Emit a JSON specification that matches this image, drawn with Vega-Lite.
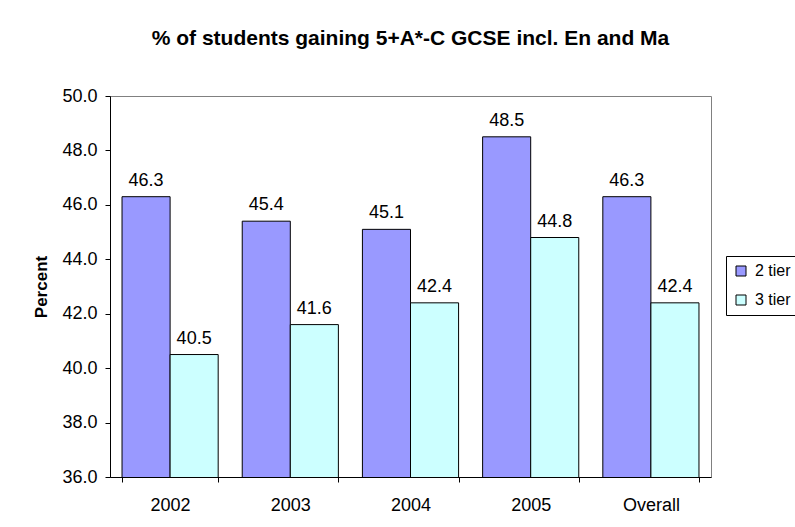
{
  "$schema": "https://vega.github.io/schema/vega-lite/v6.json",
  "width": 601,
  "height": 381,
  "autosize": "none",
  "padding": {"left": 110, "top": 96, "right": 84, "bottom": 50},
  "background": "white",
  "title": {
    "text": "% of students gaining 5+A*-C GCSE incl. En and Ma",
    "font": "Liberation Sans",
    "fontSize": 21,
    "fontWeight": "bold",
    "color": "black",
    "anchor": "middle",
    "offset": 38
  },
  "config": {
    "font": "Liberation Sans",
    "view": {"stroke": "#808080", "strokeWidth": 1}
  },
  "data": {
    "values": [
      {"cat": "2002", "series": "2 tier", "pct": 46.3},
      {"cat": "2002", "series": "3 tier", "pct": 40.5},
      {"cat": "2003", "series": "2 tier", "pct": 45.4},
      {"cat": "2003", "series": "3 tier", "pct": 41.6},
      {"cat": "2004", "series": "2 tier", "pct": 45.1},
      {"cat": "2004", "series": "3 tier", "pct": 42.4},
      {"cat": "2005", "series": "2 tier", "pct": 48.5},
      {"cat": "2005", "series": "3 tier", "pct": 44.8},
      {"cat": "Overall", "series": "2 tier", "pct": 46.3},
      {"cat": "Overall", "series": "3 tier", "pct": 42.4}
    ]
  },
  "encoding": {
    "x": {
      "field": "cat",
      "type": "nominal",
      "sort": null,
      "scale": {"paddingInner": 0.2, "paddingOuter": 0.1},
      "axis": {
        "title": null,
        "labelAngle": 0,
        "labelFontSize": 18,
        "labelColor": "black",
        "labelPadding": 14,
        "domainColor": "black",
        "tickColor": "black",
        "tickSize": 5,
        "tickBand": "extent",
        "grid": false
      }
    },
    "xOffset": {"field": "series", "type": "nominal", "scale": {"paddingInner": 0}},
    "y": {
      "field": "pct",
      "type": "quantitative",
      "scale": {"domain": [36, 50], "zero": false, "nice": false},
      "axis": {
        "title": "Percent",
        "titleFontSize": 17,
        "titleFontWeight": "bold",
        "titleColor": "black",
        "titlePadding": 11,
        "values": [36, 38, 40, 42, 44, 46, 48, 50],
        "format": ".1f",
        "labelFontSize": 18,
        "labelColor": "black",
        "labelPadding": 8,
        "domainColor": "black",
        "tickColor": "black",
        "tickSize": 5,
        "grid": false
      }
    }
  },
  "layer": [
    {
      "mark": {"type": "bar", "stroke": "black", "strokeWidth": 1, "clip": true},
      "encoding": {
        "color": {
          "field": "series",
          "type": "nominal",
          "scale": {"domain": ["2 tier", "3 tier"], "range": ["#9999FF", "#CCFFFF"]},
          "legend": {
            "title": null,
            "orient": "none",
            "legendX": 616,
            "legendY": 160,
            "symbolType": "square",
            "symbolSize": 100,
            "symbolStrokeColor": "black",
            "symbolStrokeWidth": 1,
            "symbolOpacity": 1,
            "labelFontSize": 16,
            "labelColor": "black",
            "labelOffset": 6,
            "rowPadding": 13,
            "strokeColor": "black",
            "padding": 7,
            "fillColor": "white"
          }
        }
      }
    },
    {
      "mark": {"type": "text", "baseline": "alphabetic", "dy": -11, "fontSize": 18, "color": "black"},
      "encoding": {
        "text": {"field": "pct", "type": "quantitative", "format": ".1f"}
      }
    }
  ]
}
